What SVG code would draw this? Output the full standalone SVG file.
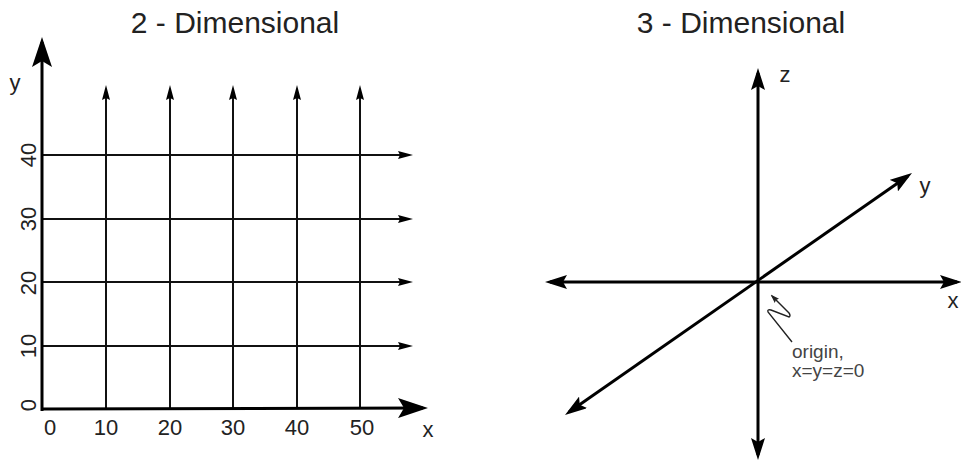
<svg xmlns="http://www.w3.org/2000/svg" width="961" height="463" viewBox="0 0 961 463">
<style>
text{font-family:"Liberation Sans","DejaVu Sans",sans-serif;fill:#222}
.title{font-size:30px;text-anchor:middle}
.lbl{font-size:22px;text-anchor:middle}
.note{font-size:19px;fill:#444}
.grid{stroke:#111;stroke-width:2;fill:none}
.axis{stroke:#000;stroke-width:3;fill:none}
.thin{stroke:#222;stroke-width:1.4;fill:none}
</style>
<defs>
<marker id="big" markerUnits="userSpaceOnUse" viewBox="0 0 30 20" markerWidth="30" markerHeight="20" refX="25" refY="10" orient="auto-start-reverse"><path d="M0,0 L30,10 L0,20 L6,10 z" fill="#000"/></marker>
<marker id="mid" markerUnits="userSpaceOnUse" viewBox="0 0 22 14" markerWidth="22" markerHeight="14" refX="17" refY="7" orient="auto-start-reverse"><path d="M0,0 L22,7 L0,14 L4,7 z" fill="#000"/></marker>
<marker id="small" markerUnits="userSpaceOnUse" viewBox="0 0 15 8" markerWidth="15" markerHeight="8" refX="10" refY="4" orient="auto"><path d="M0,0 L15,4 L0,8 L2,4 z" fill="#000"/></marker>
<marker id="tiny" markerUnits="userSpaceOnUse" viewBox="0 0 9 6" markerWidth="9" markerHeight="6" refX="7" refY="3" orient="auto"><path d="M0,0 L9,3 L0,6 L1.5,3 z" fill="#222"/></marker>
</defs>

<g id="twoD">
<text class="title" x="235" y="33">2 - Dimensional</text>
<g id="connectors2d">
<g class="grid" marker-end="url(#small)">
<line x1="106" y1="409" x2="106" y2="90"/>
<line x1="170" y1="409" x2="170" y2="90"/>
<line x1="233" y1="409" x2="233" y2="90"/>
<line x1="297" y1="409" x2="297" y2="90"/>
<line x1="360" y1="409" x2="360" y2="90"/>
<line x1="42" y1="155" x2="408" y2="155"/>
<line x1="42" y1="219" x2="408" y2="219"/>
<line x1="42" y1="282" x2="408" y2="282"/>
<line x1="42" y1="346" x2="408" y2="346"/>
</g>
<line class="axis" x1="42" y1="411" x2="42" y2="42" marker-end="url(#big)"/>
<line class="axis" x1="41" y1="409" x2="423" y2="408" marker-end="url(#big)"/>
</g>
<text class="lbl" x="15" y="90">y</text>
<text class="lbl" x="428" y="437">x</text>
<text class="lbl" x="50" y="435">0</text>
<text class="lbl" x="106" y="435">10</text>
<text class="lbl" x="170" y="435">20</text>
<text class="lbl" x="233" y="435">30</text>
<text class="lbl" x="297" y="435">40</text>
<text class="lbl" x="362" y="435">50</text>
<text class="lbl" transform="translate(36,405) rotate(-90)">0</text>
<text class="lbl" transform="translate(36,346) rotate(-90)">10</text>
<text class="lbl" transform="translate(36,283) rotate(-90)">20</text>
<text class="lbl" transform="translate(36,219) rotate(-90)">30</text>
<text class="lbl" transform="translate(36,155) rotate(-90)">40</text>
</g>

<g id="threeD">
<text class="title" x="741" y="33">3 - Dimensional</text>
<g id="connectors3d">
<line class="axis" x1="758" y1="455" x2="758" y2="73" marker-start="url(#mid)" marker-end="url(#mid)"/>
<line class="axis" x1="550" y1="282" x2="957" y2="282" marker-start="url(#mid)" marker-end="url(#mid)"/>
<line class="axis" x1="569.1" y1="412.1" x2="907.9" y2="175.9" marker-start="url(#mid)" marker-end="url(#mid)"/>
<path class="thin" d="M792,342 L768,312 Q767,309 771,310 L789,317 Q791,316 789,313 L772,296" marker-end="url(#tiny)"/>
</g>
<text class="lbl" x="785" y="82">z</text>
<text class="lbl" x="925" y="193">y</text>
<text class="lbl" x="953" y="308">x</text>
<text class="note" x="792" y="358">origin,</text>
<text class="note" x="792" y="377">x=y=z=0</text>
</g>
</svg>
